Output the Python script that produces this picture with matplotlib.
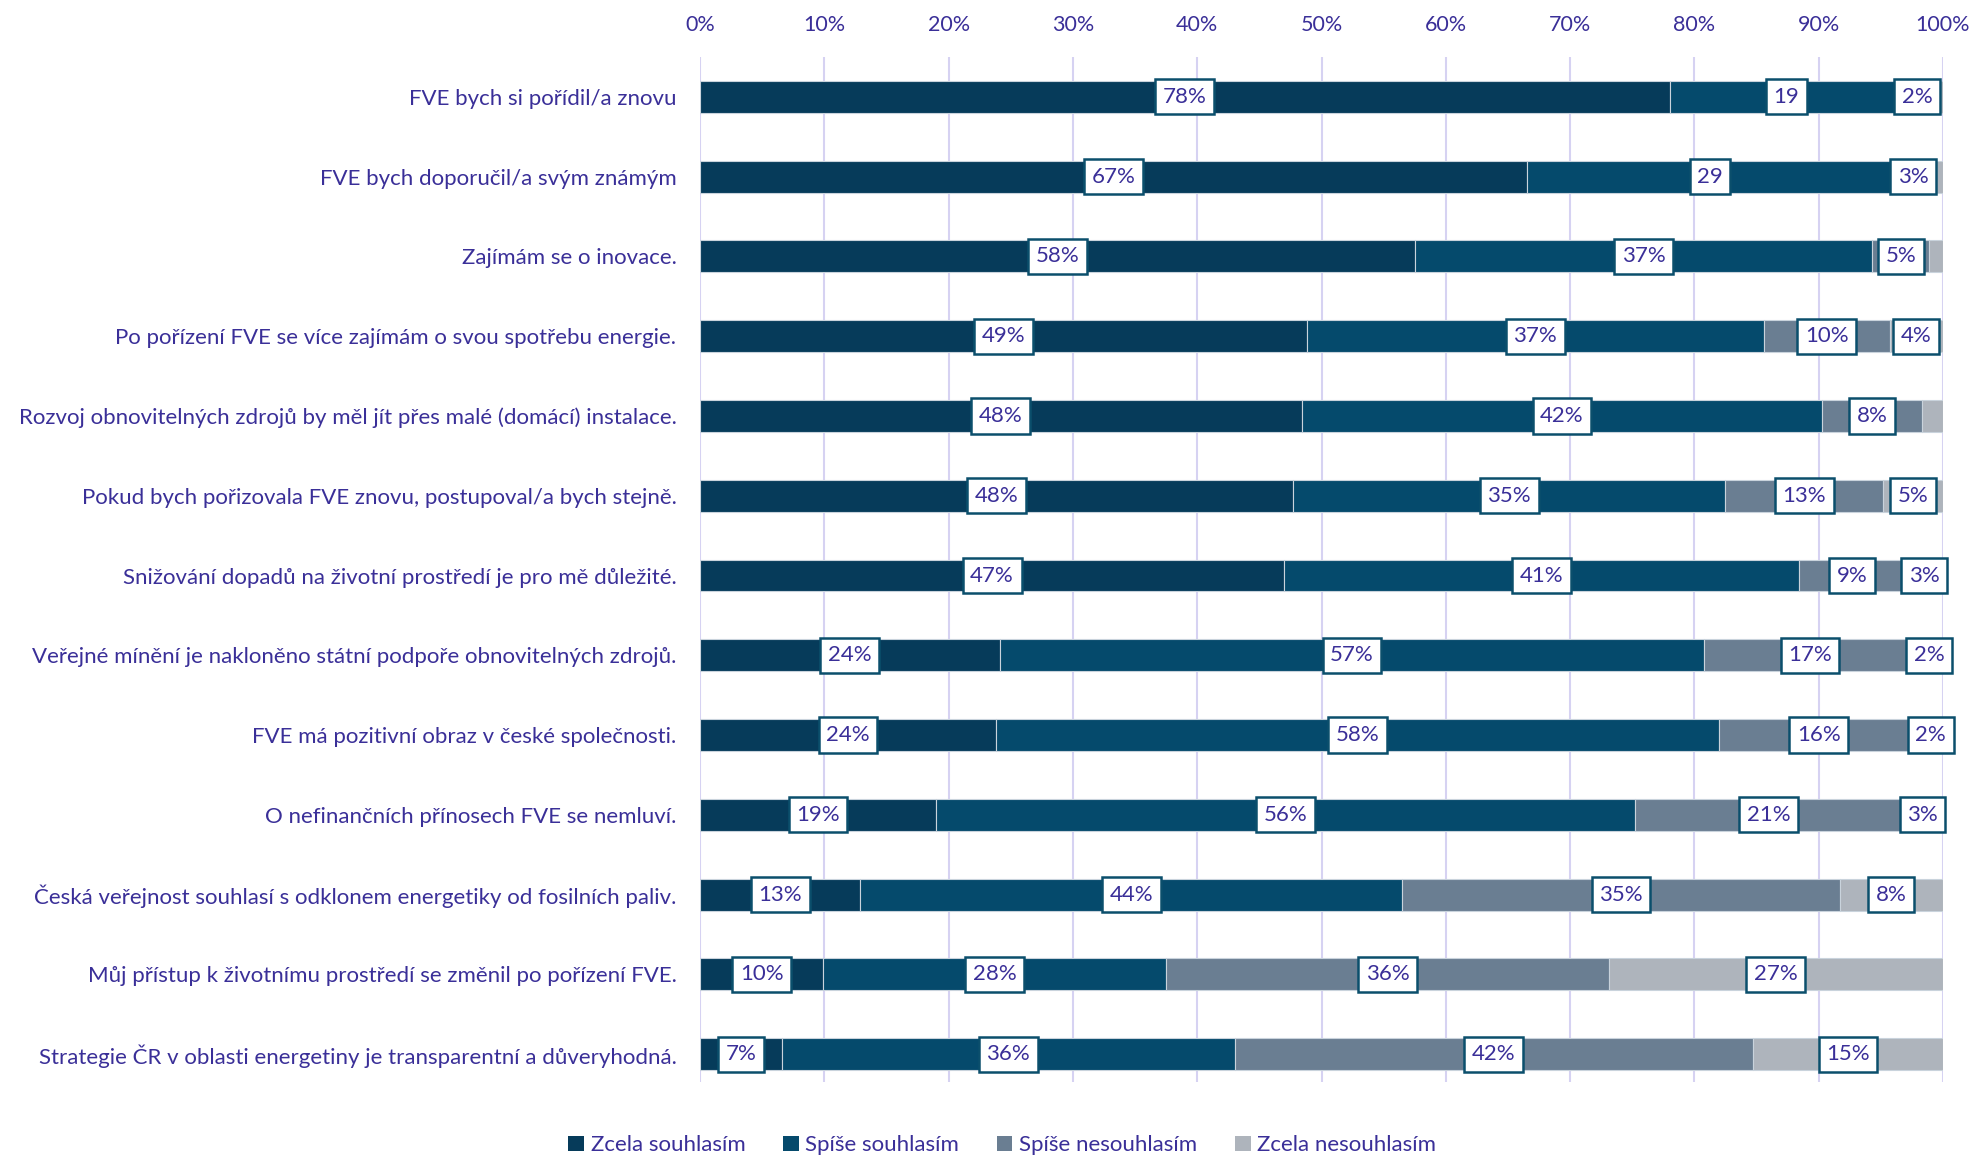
import numpy as np
import matplotlib
matplotlib.use("Agg")
import matplotlib.pyplot as plt
from matplotlib.patches import Patch

categories = [
    "FVE bych si pořídil/a znovu",
    "FVE bych doporučil/a svým známým",
    "Zajímám se o inovace.",
    "Po pořízení FVE se více zajímám o svou spotřebu energie.",
    "Rozvoj obnovitelných zdrojů by měl jít přes malé (domácí) instalace.",
    "Pokud bych pořizovala FVE znovu, postupoval/a bych stejně.",
    "Snižování dopadů na životní prostředí je pro mě důležité.",
    "Veřejné mínění je nakloněno státní podpoře obnovitelných zdrojů.",
    "FVE má pozitivní obraz v české společnosti.",
    "O nefinančních přínosech FVE se nemluví.",
    "Česká veřejnost souhlasí s odklonem energetiky od fosilních paliv.",
    "Můj přístup k životnímu prostředí se změnil po pořízení FVE.",
    "Strategie ČR v oblasti energetiny je transparentní a důveryhodná.",
]

series_names = ["Zcela souhlasím", "Spíše souhlasím", "Spíše nesouhlasím", "Zcela nesouhlasím"]

zcela_souhlasim = [78.0, 66.5, 57.5, 48.8, 48.4, 47.7, 47.0, 24.1, 23.8, 19.0, 12.9, 9.9, 6.6]
spise_souhlasim = [18.8, 29.5, 36.8, 36.8, 41.9, 34.8, 41.4, 56.7, 58.2, 56.2, 43.6, 27.6, 36.4]
spise_nesouhlasim = [2.2, 3.2, 4.6, 10.1, 8.0, 12.7, 8.6, 17.0, 16.0, 21.5, 35.2, 35.6, 41.7]
zcela_nesouhlasim = [1.0, 0.8, 1.1, 4.3, 1.7, 4.8, 3.0, 2.2, 2.0, 3.3, 8.3, 26.9, 15.3]

# labels as printed on the chart
labels = [
    ["78%", "19", "2%", ""],
    ["67%", "29", "3%", ""],
    ["58%", "37%", "5%", ""],
    ["49%", "37%", "10%", "4%"],
    ["48%", "42%", "8%", ""],
    ["48%", "35%", "13%", "5%"],
    ["47%", "41%", "9%", "3%"],
    ["24%", "57%", "17%", "2%"],
    ["24%", "58%", "16%", "2%"],
    ["19%", "56%", "21%", "3%"],
    ["13%", "44%", "35%", "8%"],
    ["10%", "28%", "36%", "27%"],
    ["7%", "36%", "42%", "15%"],
]

colors = ["#063B5A", "#054A6C", "#6A7E92", "#AEB4BC"]
text_col = "#3A2F98"
grid_col = "#D6D2F2"

plt.rcParams["font.family"] = ["Lato", "DejaVu Sans"]

fig = plt.figure(figsize=(19.73, 11.59), dpi=100)
ax = fig.add_axes([0.3548, 0.0664, 0.630, 0.8844])

data = np.array([zcela_souhlasim, spise_souhlasim, spise_nesouhlasim, zcela_nesouhlasim])
y = np.arange(len(categories))
left = np.zeros(len(categories))
for k in range(4):
    ax.barh(y, data[k], left=left, height=0.4, color=colors[k],
            edgecolor="#C9D3DC", linewidth=0.8, zorder=2)
    for i in range(len(categories)):
        txt = labels[i][k]
        if txt:
            ax.text(left[i] + data[k][i] / 2, y[i], txt, ha="center", va="center",
                    fontsize=16, color=text_col, zorder=4,
                    bbox=dict(boxstyle="square,pad=0.34", fc="white", ec="#0B4F6C", lw=1.8))
    left += data[k]

ax.set_xlim(0, 100)
ax.set_ylim(12.35, -0.5)
ax.set_xticks(np.arange(0, 101, 10))
ax.set_xticklabels([f"{v}%" for v in range(0, 101, 10)])
ax.xaxis.tick_top()
ax.set_yticks(y)
ax.set_yticklabels(categories)
ax.tick_params(axis="x", length=0, pad=16, labelsize=15.5, labelcolor=text_col)
ax.tick_params(axis="y", length=0, pad=17, labelsize=16.0, labelcolor=text_col)
ax.grid(axis="x", color=grid_col, linewidth=1.5, zorder=0)
ax.set_axisbelow(True)
for s in ax.spines.values():
    s.set_visible(False)

handles = [Patch(facecolor=c, edgecolor="none") for c in colors]
fig.legend(handles, series_names, loc="lower center", bbox_to_anchor=(0.508, -0.014),
           ncol=4, frameon=False, fontsize=16, labelcolor=text_col,
           handlelength=0.7, handleheight=0.7, handletextpad=0.3, columnspacing=1.7)

fig.savefig("out.png", dpi=100)
